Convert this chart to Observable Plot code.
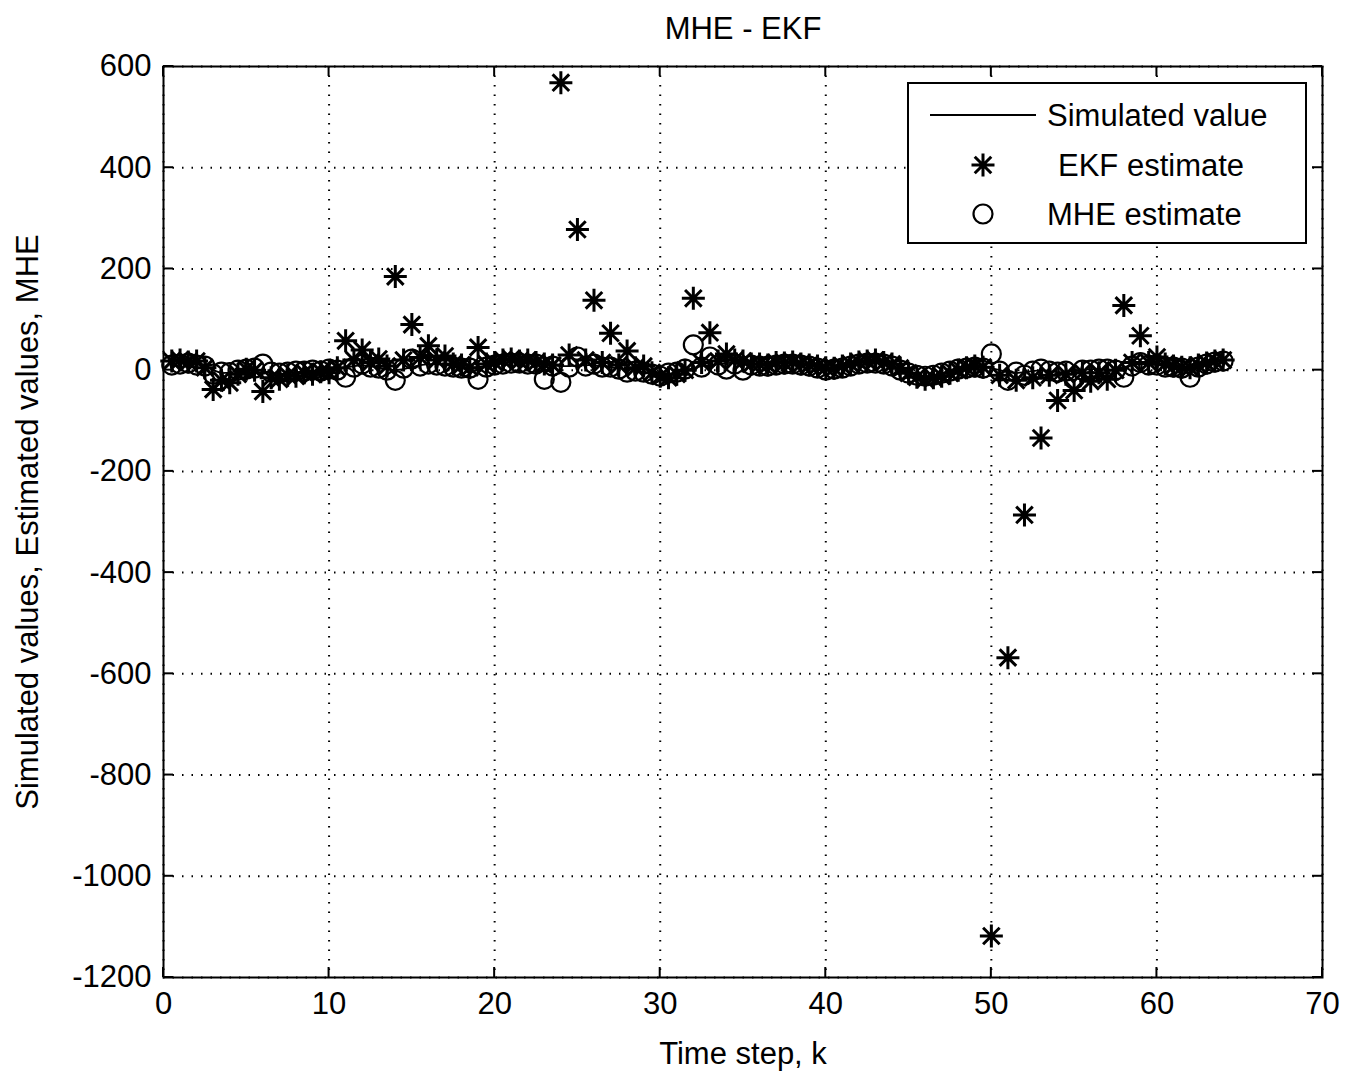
<!DOCTYPE html>
<html>
<head>
<meta charset="utf-8">
<script src="https://cdn.jsdelivr.net/npm/d3@7"></script>
<script src="https://cdn.jsdelivr.net/npm/@observablehq/plot@0.6"></script>
<style>
  html, body { margin: 0; padding: 0; background: #fff; }
  #chart svg { display: block; }
</style>
</head>
<body>
<div id="chart"></div>
<script>
const titleText = "MHE - EKF";
const xLabel = "Time step, k";
const yLabel = "Simulated values, Estimated values, MHE";
const legendLabels = ["Simulated value", "EKF estimate", "MHE estimate"];
const xTicks = [0, 10, 20, 30, 40, 50, 60, 70];
const yTicks = [-1200, -1000, -800, -600, -400, -200, 0, 200, 400, 600];

const k = [0.5,1,1.5,2,2.5,3,3.5,4,4.5,5,5.5,6,6.5,7,7.5,8,8.5,9,9.5,10,
  10.5,11,11.5,12,12.5,13,13.5,14,14.5,15,15.5,16,16.5,17,17.5,18,18.5,19,19.5,20,
  20.5,21,21.5,22,22.5,23,23.5,24,24.5,25,25.5,26,26.5,27,27.5,28,28.5,29,29.5,30,
  30.5,31,31.5,32,32.5,33,33.5,34,34.5,35,35.5,36,36.5,37,37.5,38,38.5,39,39.5,40,
  40.5,41,41.5,42,42.5,43,43.5,44,44.5,45,45.5,46,46.5,47,47.5,48,48.5,49,49.5,50,
  50.5,51,51.5,52,52.5,53,53.5,54,54.5,55,55.5,56,56.5,57,57.5,58,58.5,59,59.5,60,
  60.5,61,61.5,62,62.5,63,63.5,64];

const simulated = [12,15,14,12,8,0,-6,-5,-2,0,2,-2,-6,-8,-6,-4,-3,-2,-2,0,
  2,5,8,10,8,5,2,0,2,6,10,12,12,10,8,6,5,6,8,10,
  14,16,16,15,14,12,10,8,8,9,10,10,8,6,4,2,0,-4,-8,-10,
  -8,-4,0,4,8,10,12,14,15,14,12,10,10,12,14,14,12,10,6,2,
  2,6,10,14,16,16,14,10,2,-6,-12,-14,-12,-8,-4,0,4,6,6,4,
  0,-4,-6,-4,-2,0,-2,-4,-4,-2,0,2,2,0,2,6,10,12,12,10,
  8,6,4,4,8,12,16,18];

const ekf = [18,20,16,18,5,-38,-20,-25,-8,2,0,-42,-15,-18,-10,-12,-5,-8,-3,-5,
  5,58,20,40,15,22,8,185,20,90,25,48,20,28,12,10,5,45,12,15,
  20,22,18,20,15,12,10,568,30,278,20,138,15,73,10,38,5,8,-5,-12,
  -15,-8,0,142,15,74,18,32,20,18,12,12,10,15,14,16,12,10,8,5,
  4,8,12,16,18,20,15,12,4,-6,-14,-18,-15,-12,-6,0,5,8,6,-1118,
  -10,-568,-20,-286,-15,-134,-10,-60,-8,-40,-5,-22,-5,-18,0,128,15,68,15,26,
  12,8,6,5,10,14,18,20];

const mhe = [10,12,14,10,8,-8,-4,-5,0,2,4,12,-4,-6,-4,-2,-2,0,-2,2,
  0,-14,6,12,6,4,0,-20,4,22,8,12,10,8,6,4,4,-18,6,10,
  12,14,14,12,12,-18,8,-24,6,26,8,12,6,6,2,-4,-2,-4,-8,-12,
  -6,-4,2,50,6,26,10,2,12,0,10,8,8,10,12,12,10,8,4,0,
  2,4,8,12,14,14,12,8,0,-6,-10,-12,-10,-6,-2,2,4,6,4,32,
  -2,-20,-4,-10,-2,2,-2,-4,-2,-18,0,0,2,2,0,-14,8,15,10,10,
  6,6,4,-14,6,12,16,18];

const rows = k.map((kk, i) => ({k: kk, sim: simulated[i], ekf: ekf[i], mhe: mhe[i]}));

// MATLAB-style 8-armed asterisk
const star8 = {
  draw(ctx, size) {
    const r = Math.sqrt(size / Math.PI);
    const d = r * 0.72;
    ctx.moveTo(-r, 0); ctx.lineTo(r, 0);
    ctx.moveTo(0, -r); ctx.lineTo(0, r);
    ctx.moveTo(-d, -d); ctx.lineTo(d, d);
    ctx.moveTo(-d, d); ctx.lineTo(d, -d);
  }
};

const FONT = "Liberation Sans, Arial, sans-serif";
const W = 1354, H = 1076;
const mL = 163, mR = 32, mT = 66, mB = 99;
const fmt = d => String(d);

const svg = Plot.plot({
  width: W,
  height: H,
  marginLeft: mL,
  marginRight: mR,
  marginTop: mT,
  marginBottom: mB,
  style: {fontFamily: FONT, fontSize: "31px", color: "#000", background: "#fff"},
  x: {domain: [0, 70], ticks: xTicks},
  y: {domain: [-1200, 600], ticks: yTicks},
  marks: [
    Plot.gridX(xTicks, {stroke: "#000", strokeOpacity: 1, strokeWidth: 2, strokeDasharray: "1.5,8"}),
    Plot.gridY(yTicks, {stroke: "#000", strokeOpacity: 1, strokeWidth: 2, strokeDasharray: "1.5,8"}),
    Plot.line(rows, {x: "k", y: "sim", stroke: "#000", strokeWidth: 1.8}),
    Plot.dot(rows, {x: "k", y: "mhe", r: 9.5, symbol: "circle", stroke: "#000", strokeWidth: 2.2, fill: "none"}),
    Plot.dot(rows, {x: "k", y: "ekf", r: 11.5, symbol: star8, stroke: "#000", strokeWidth: 3, fill: "none"}),
    Plot.frame({stroke: "#000", strokeWidth: 2}),
    Plot.axisX(xTicks, {anchor: "bottom", tickSize: 0, tickPadding: 14, fontSize: 31, tickFormat: fmt,
      label: xLabel, labelAnchor: "center", labelOffset: 86, labelArrow: "none"}),
    Plot.axisY(yTicks, {anchor: "left", tickSize: 0, tickPadding: 12, fontSize: 31, tickFormat: fmt,
      label: yLabel, labelAnchor: "center", labelOffset: 148, labelArrow: "none"}),
    Plot.text([titleText], {frameAnchor: "top", dy: -50, fontSize: 31, fill: "#000"})
  ]
});

// inward tick marks (MATLAB style) on all four sides
const g = d3.select(svg).append("g").attr("stroke", "#000").attr("stroke-width", 2);
const xs = d3.scaleLinear().domain([0, 70]).range([mL, W - mR]);
const ys = d3.scaleLinear().domain([-1200, 600]).range([H - mB, mT]);
xTicks.forEach(t => {
  g.append("line").attr("x1", xs(t)).attr("x2", xs(t)).attr("y1", H - mB).attr("y2", H - mB - 10);
  g.append("line").attr("x1", xs(t)).attr("x2", xs(t)).attr("y1", mT).attr("y2", mT + 10);
});
yTicks.forEach(t => {
  g.append("line").attr("y1", ys(t)).attr("y2", ys(t)).attr("x1", mL).attr("x2", mL + 10);
  g.append("line").attr("y1", ys(t)).attr("y2", ys(t)).attr("x1", W - mR).attr("x2", W - mR - 10);
});

// legend box
const lg = d3.select(svg).append("g").attr("font-family", FONT).attr("font-size", 31)
  .attr("fill", "#000").attr("text-anchor", "start");
lg.append("rect").attr("x", 908).attr("y", 83).attr("width", 398).attr("height", 160)
  .attr("fill", "#fff").attr("stroke", "#000").attr("stroke-width", 2);
lg.append("line").attr("x1", 930).attr("x2", 1036).attr("y1", 115).attr("y2", 115)
  .attr("stroke", "#000").attr("stroke-width", 1.8);
lg.append("path").attr("d", d3.symbol(star8, Math.PI * 11.5 * 11.5)()).attr("transform", "translate(983,165)")
  .attr("stroke", "#000").attr("stroke-width", 3).attr("fill", "none");
lg.append("circle").attr("cx", 983).attr("cy", 214).attr("r", 9.5)
  .attr("stroke", "#000").attr("stroke-width", 2.2).attr("fill", "none");
lg.append("text").attr("x", 1047).attr("y", 115).attr("dy", "0.35em").attr("text-anchor", "start").text(legendLabels[0]);
lg.append("text").attr("x", 1058).attr("y", 165).attr("dy", "0.35em").attr("text-anchor", "start").text(legendLabels[1]);
lg.append("text").attr("x", 1047).attr("y", 214).attr("dy", "0.35em").attr("text-anchor", "start").text(legendLabels[2]);

document.getElementById("chart").appendChild(svg);
</script>
</body>
</html>
